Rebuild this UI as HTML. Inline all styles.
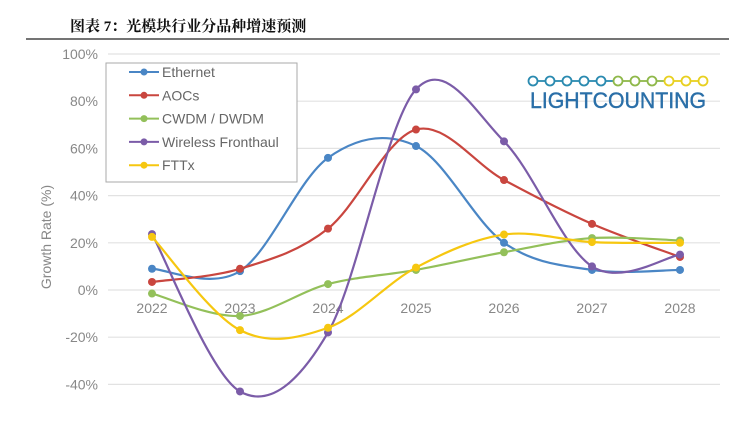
<!DOCTYPE html>
<html><head><meta charset="utf-8"><style>
body{margin:0;background:#fff;width:729px;height:420px;overflow:hidden;font-family:"Liberation Sans",sans-serif}
</style></head><body>
<svg id="c" width="729" height="420" xmlns="http://www.w3.org/2000/svg">
<text x="70" y="31" font-size="15" font-weight="bold" font-family="'Liberation Serif','Noto Serif CJK SC',serif" fill="#111">图表 7：光模块行业分品种增速预测</text>
<line x1="26" y1="39" x2="729" y2="39" stroke="#222" stroke-width="1.2"/>
<g id="grid"></g>
<g id="series"></g>
<text transform="translate(51,237) rotate(-90)" text-anchor="middle" font-size="14" fill="#888">Growth Rate (%)</text>
<g>
<rect x="106" y="63" width="191" height="119" fill="#fff" stroke="#aaa" stroke-width="1"/>
<g id="legend"></g>
</g>
<g id="logo">
<text x="530" y="108" font-size="22" fill="#2a6fa8" stroke="#2a6fa8" stroke-width="0.4" textLength="176" lengthAdjust="spacingAndGlyphs">LIGHTCOUNTING</text>
</g>
</svg>
<script>
const years=["2022","2023","2024","2025","2026","2027","2028"];
const yTicks=[100,80,60,40,20,0,-20,-40];
const seriesNames=["Ethernet","AOCs","CWDM / DWDM","Wireless Fronthaul","FTTx"];
const colors=["#4a86c5","#c9463f","#93c05a","#7b5ca8","#f6c710"];
const ethernet=[9,8,56,61,20,8.5,8.5];
const aocs=[3.4,9,26,68,46.6,28,14];
const cwdm=[-1.5,-11,2.5,8.5,16,22,21];
const wireless=[23.7,-43,-18,85,63,10,15];
const fttx=[22.5,-17,-16,9.5,23.5,20.3,20];
const data=[ethernet,aocs,cwdm,wireless,fttx];
const NS="http://www.w3.org/2000/svg";
const xs=i=>152+i*88;
const ys=v=>290-v*2.36;
function mk(t,a,p){const e=document.createElementNS(NS,t);for(const k in a)e.setAttribute(k,a[k]);p.appendChild(e);return e;}
const grid=document.getElementById('grid');
yTicks.forEach(t=>{
 const l=mk('line',{x1:108,x2:720,y1:ys(t),y2:ys(t),stroke:'#e2e2e2','stroke-width':1.2},grid);
 
 
 const tx=mk('text',{x:98,y:ys(t)+5,'text-anchor':'end','font-size':14,fill:'#888'},grid);
 tx.textContent=t+'%';
 
 
});
years.forEach((y,i)=>{
 const tx=mk('text',{x:xs(i),y:313,'text-anchor':'middle','font-size':14,fill:'#888'},grid);
 tx.textContent=y;
 
 
});
function path(pts){
 let d=`M${pts[0][0]},${pts[0][1]}`;const t=0.5/3*2;
 for(let i=0;i<pts.length-1;i++){
  const p0=pts[i-1]||pts[i],p1=pts[i],p2=pts[i+1],p3=pts[i+2]||p2;
  const c1=[p1[0]+(p2[0]-p0[0])*t/2,p1[1]+(p2[1]-p0[1])*t/2];
  const c2=[p2[0]-(p3[0]-p1[0])*t/2,p2[1]-(p3[1]-p1[1])*t/2];
  d+=`C${c1[0]},${c1[1]} ${c2[0]},${c2[1]} ${p2[0]},${p2[1]}`;
 }return d;}
const sg=document.getElementById('series');
data.forEach((s,k)=>{
 const g=mk('g',{},sg);
 
 
 const pts=s.map((v,i)=>[xs(i),ys(v)]);
 mk('path',{d:path(pts),fill:'none',stroke:colors[k],'stroke-width':2.2},g);
 pts.forEach(p=>{const c=mk('circle',{cx:p[0],cy:p[1],r:4,fill:colors[k]},g);
  
  });
});
const lg=document.getElementById('legend');
seriesNames.forEach((n,k)=>{
 const y=72+k*23.3;
 const g=mk('g',{},lg);
 
 
 mk('line',{x1:129,x2:159,y1:y,y2:y,stroke:colors[k],'stroke-width':2},g);
 mk('circle',{cx:144,cy:y,r:3.5,fill:colors[k]},g);
 const t=mk('text',{x:162,y:y+5,'font-size':14,fill:'#666'},g);t.textContent=n;
});
const logo=document.getElementById('logo');
for(let i=0;i<11;i++){
 const cx=533+i*17, col=i<5?'#2a8ab0':(i<8?'#8fb84a':'#e8d020');
 mk('circle',{cx:cx,cy:81,r:4.5,fill:'none',stroke:col,'stroke-width':1.8},logo);
 if(i<10)mk('line',{x1:cx+4.5,x2:cx+12.5,y1:81,y2:81,stroke:col,'stroke-width':1.8},logo);
}
</script>
</body></html>
